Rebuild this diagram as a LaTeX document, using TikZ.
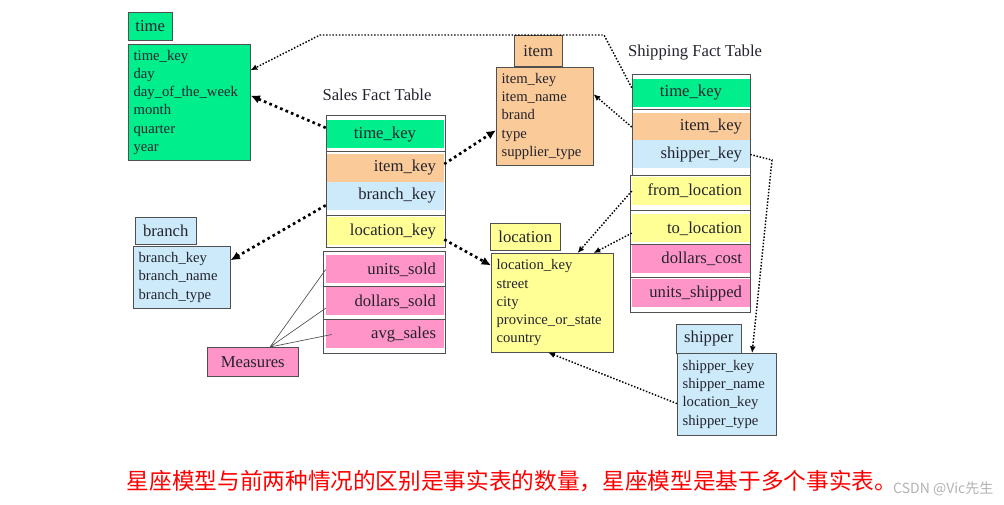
\documentclass[tikz,border=0pt]{standalone}
\usepackage{fontspec}
\setmainfont{Liberation Serif}
\newfontfamily\cjk{Noto Sans CJK SC}
\usepackage{tikz}
\usetikzlibrary{arrows.meta}
\definecolor{dwGreen}{RGB}{0,238,140}
\definecolor{dwOrange}{RGB}{250,202,152}
\definecolor{dwBlue}{RGB}{204,234,250}
\definecolor{dwYellow}{RGB}{255,255,150}
\definecolor{dwPink}{RGB}{255,148,200}
\definecolor{dwFrame}{RGB}{80,80,80}
\definecolor{dwText}{RGB}{35,35,45}

\begin{document}
\begin{tikzpicture}[x=0.75pt,y=-0.75pt,
  font=\fontsize{11}{13.7}\selectfont,text=dwText,
  lbl/.style={draw=dwFrame,anchor=north west,inner sep=0pt,font=\fontsize{12.5}{15}\selectfont},
  attr/.style={draw=dwFrame,anchor=north west,align=left,inner xsep=4pt,inner ysep=0pt,text width=#1},
  fld/.style={minimum height=21pt,inner xsep=6pt,inner ysep=0pt,text width=76.5pt,align=right,
    font=\fontsize{12.5}{15}\selectfont},
  frm/.style={draw=dwFrame,line width=0.7pt},
  dl/.style={line width=1.1pt,dash pattern=on 1.1pt off 1.3pt,-{Latex[length=5pt,width=4.5pt]}},
  dlb/.style={line width=2pt,dash pattern=on 2pt off 2.4pt,-{Latex[length=7pt,width=6.5pt]}}]
\useasboundingbox (0,0) rectangle (1004,505);
% dimension tables
\node[lbl,fill=dwGreen,minimum width=33pt,minimum height=21pt] (timeL) at (128,12) {time};
\node[attr=83.5pt,fill=dwGreen,minimum height=87pt] (time) at (128,44)
  {time\_key\\day\\day\_of\_the\_week\\month\\quarter\\year};
\node[lbl,fill=dwOrange,minimum width=36pt,minimum height=23.25pt] (itemL) at (514,35) {item};
\node[attr=64.75pt,fill=dwOrange,minimum height=73.5pt] (item) at (496,67)
  {item\_key\\item\_name\\brand\\type\\supplier\_type};
\node[lbl,fill=dwBlue,minimum width=45.75pt,minimum height=20.25pt] (branchL) at (135,217) {branch};
\node[attr=64.75pt,fill=dwBlue,minimum height=46.5pt] (branch) at (133,246)
  {branch\_key\\branch\_name\\branch\_type};
\node[lbl,fill=dwYellow,minimum width=52.5pt,minimum height=20.25pt] (locL) at (490,223) {location};
\node[attr=83.5pt,fill=dwYellow,minimum height=74.25pt] (loc) at (491,253)
  {location\_key\\street\\city\\province\_or\_state\\country};
\node[lbl,fill=dwBlue,minimum width=48.75pt,minimum height=21.75pt] (shipL) at (676,324) {shipper};
\node[attr=66.25pt,fill=dwBlue,minimum height=61.5pt] (ship) at (677,353)
  {shipper\_key\\shipper\_name\\location\_key\\shipper\_type};
\node[lbl,fill=dwPink,minimum width=68.25pt,minimum height=21.75pt] (meas) at (207,347) {Measures};
% sales fact table
\node[font=\fontsize{12.5}{15}\selectfont] (salesT) at (377,95) {Sales Fact Table};
\node[fld,fill=dwGreen,align=center] (s-time) at (385,134.5) {time\_key};
\foreach \k/\y/\c/\t in {item/168/dwOrange/item\_key,branch/196/dwBlue/branch\_key,
  loc/231.5/dwYellow/location\_key,units/269.5/dwPink/units\_sold,
  dollars/301.5/dwPink/dollars\_sold,avg/334.5/dwPink/avg\_sales}
  \node[fld,fill=\c] (s-\k) at (385,\y) {\t};
\draw[frm] (326,115) rectangle (445,247) (326,151) -- (445,151) (326,215) -- (445,215);
\draw[frm] (323,251) rectangle (445,353) (323,286) -- (445,286) (323,319) -- (445,319);
% shipping fact table
\node[font=\fontsize{12.5}{15}\selectfont] (shipT) at (695,53) {Shipping Fact Table};
\node[fld,fill=dwGreen,align=center] (h-time) at (691,93) {time\_key};
\foreach \k/\y/\c/\t in {item/127/dwOrange/item\_key,shipper/154.5/dwBlue/shipper\_key,
  from/191/dwYellow/from\_location,to/228.5/dwYellow/to\_location,
  cost/259/dwPink/dollars\_cost,units/293.5/dwPink/units\_shipped}
  \node[fld,fill=\c] (h-\k) at (691,\y) {\t};
\draw[frm] (632,74) rectangle (750,175) (632,109) -- (750,109);
\draw[frm] (630,175) rectangle (750,312) (630,210) -- (750,210) (630,244) -- (750,244)
  (630,277) -- (750,277);
% links
\coordinate (c1) at (604,35);
\coordinate (c2) at (320,35);
\coordinate (c3) at (772,160);
\draw[dlb] ([yshift=5pt]s-time.west) -- ([yshift=5pt]time.east);
\draw[dlb] ([yshift=3pt]s-item.east) -- ([yshift=-10.5pt]item.west);
\draw[dlb] ([yshift=-7pt]s-branch.west) -- ([yshift=12.75pt]branch.east);
\draw[dlb] ([yshift=-6pt]s-loc.east) -- ([yshift=28pt]loc.west);
\draw[dl] ([yshift=4pt]h-time.west) -- (c1) -- (c2) -- ([yshift=24pt]time.east);
\draw[dl] (h-item.west) -- ([yshift=16.5pt]item.east);
\draw[dl] (h-from.west) -- ([xshift=19pt]loc.north);
\draw[dl] ([yshift=-3.5pt]h-to.west) -- ([xshift=31pt]loc.north);
\draw[dl] (h-shipper.east) -- (c3) -- ([xshift=19pt]ship.north);
\draw[dl] ([yshift=-7pt]ship.west) -- ([xshift=-3pt]loc.south);
% measures
\draw[dwFrame,line width=0.5pt] ([xshift=13pt]meas.north) -- (s-units.west)
  ([xshift=13pt]meas.north) -- ([yshift=-5pt]s-dollars.west)
  ([xshift=13pt]meas.north) -- ([xshift=4.5pt]s-avg.west);
% note
\node[text=red,font=\cjk\fontsize{17}{20}\selectfont] (note) at (512,481)
  {星座模型与前两种情况的区别是事实表的数量，星座模型是基于多个事实表。};
\node[text=black!30,font=\cjk\fontsize{10.5}{13}\selectfont,anchor=east] (wm) at (998,489) {CSDN @Vic先生};
\end{tikzpicture}
\end{document}
